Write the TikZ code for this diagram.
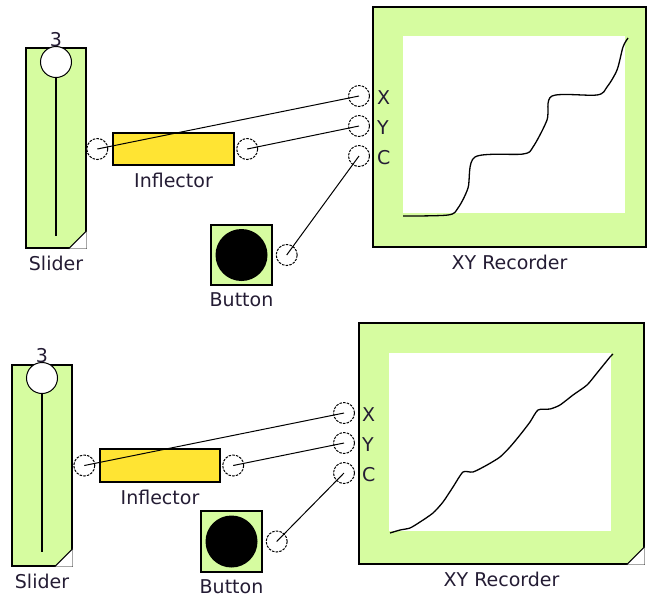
\documentclass[tikz,border=0pt]{standalone}
\usepackage{fontspec}
\setmainfont{DejaVu Sans}
\usetikzlibrary{positioning}

\definecolor{blockgreen}{RGB}{214,252,160}
\definecolor{inflyellow}{RGB}{255,228,51}
\definecolor{labelink}{RGB}{36,28,52}

\tikzset{
  block/.style={draw, line width=1.4pt, fill=blockgreen, inner sep=0pt},
  port/.style={circle, draw, dash pattern=on 2.5pt off 1.2pt, fill=white,
    minimum size=21pt, inner sep=0pt, line width=1pt},
  knob/.style={circle, draw, fill=white, minimum size=31pt, inner sep=0pt, line width=1pt},
  wire/.style={line width=1pt},
  trace/.style={line width=1.3pt, line join=round},
  caption/.style={font=\fontsize{19}{19}\selectfont, text=labelink, inner sep=0pt},
  pin label/.style={caption, right=7pt, yshift=-2pt},
}

\begin{document}
\begin{tikzpicture}[x=1pt, y=-1pt]
  \useasboundingbox (0,0) rectangle (647,598);

  % Upper model.
  % Slider.
  \node[block, minimum width=60pt, minimum height=200pt] (sliderA) at (56,148) {};
  \fill[white] (sliderA.south east) -- ++(-18,0) -- ++(18,-18) -- cycle;
  \draw[line width=1pt] (sliderA.south east) ++(-18,0) -- ++(18,-18);
  \node[knob] (knobA) at (56,62) {};
  \coordinate (trackA) at (56,236);
  \draw[line width=1.2pt] (knobA.south) -- (trackA);
  \node[caption, above=-1pt of knobA] (valA) {3};
  \node[caption, below=7pt of sliderA] (slabA) {Slider};
  % Inflector.
  \node[draw, line width=1.4pt, fill=inflyellow, minimum width=121pt, minimum height=32pt] (inflA) at (173.5,149) {};
  \node[caption, below=7pt of inflA] (ilabA) {Inflector};
  \node[port, left=4pt of inflA] (inA) {};
  \node[port, right=1.5pt of inflA] (outA) {};
  % Button.
  \node[block, minimum width=61pt, minimum height=60pt] (buttonA) at (241.5,255) {};
  \node[circle, fill=black, minimum size=52pt, inner sep=0pt] (dotA) at (buttonA) {};
  \node[caption, below=7pt of buttonA] (blabA) {Button};
  \node[port, right=3pt of buttonA] (bportA) {};
  % XY Recorder.
  \node[block, minimum width=273pt, minimum height=240pt] (recA) at (509.5,127) {};
  \fill[white] (403,36) rectangle (625,213);
  \node[caption, below=7pt of recA] (rlabA) {XY Recorder};
  \node[port] (xA) at (359,96) {};
  \node[port] (yA) at (359,126) {};
  \node[port] (cA) at (359,156) {};
  \node[pin label] at (xA.east) {X};
  \node[pin label] at (yA.east) {Y};
  \node[pin label] at (cA.east) {C};
  \draw[trace] plot[smooth, tension=0.5] coordinates {(403,216) (448,215) (458,208)
    (468,188) (475,157) (523,154) (533,147) (547,120) (552,96) (597,95) (607,87)
    (617,70) (623,47) (628,38)};
  % Wires.
  \draw[wire] (inA.center) -- (xA.center);
  \draw[wire] (outA.center) -- (yA.center);
  \draw[wire] (bportA.center) -- (cA.center);

  % Lower model.
  % Slider.
  \node[block, minimum width=60pt, minimum height=201pt] (sliderB) at (42,465.5) {};
  \fill[white] (sliderB.south east) -- ++(-18,0) -- ++(18,-18) -- cycle;
  \draw[line width=1pt] (sliderB.south east) ++(-18,0) -- ++(18,-18);
  \node[knob] (knobB) at (42,378) {};
  \coordinate (trackB) at (42,552);
  \draw[line width=1.2pt] (knobB.south) -- (trackB);
  \node[caption, above=-1pt of knobB] (valB) {3};
  \node[caption, below=7pt of sliderB] (slabB) {Slider};
  % Inflector.
  \node[draw, line width=1.4pt, fill=inflyellow, minimum width=120pt, minimum height=33pt] (inflB) at (160,465.5) {};
  \node[caption, below=7pt of inflB] (ilabB) {Inflector};
  \node[port, left=4pt of inflB] (inB) {};
  \node[port, right=1.5pt of inflB] (outB) {};
  % Button.
  \node[block, minimum width=61pt, minimum height=61pt] (buttonB) at (231.5,541.5) {};
  \node[circle, fill=black, minimum size=52pt, inner sep=0pt] (dotB) at (buttonB) {};
  \node[caption, below=7pt of buttonB] (blabB) {Button};
  \node[port, right=3pt of buttonB] (bportB) {};
  % XY Recorder.
  \node[block, minimum width=285pt, minimum height=241pt] (recB) at (501.5,443.5) {};
  \fill[white] (389,353) rectangle (611,531);
  \fill[white] (recB.south east) -- ++(-18,0) -- ++(18,-18) -- cycle;
  \draw[line width=1pt] (recB.south east) ++(-18,0) -- ++(18,-18);
  \node[caption, below=7pt of recB] (rlabB) {XY Recorder};
  \node[port] (xB) at (344,413) {};
  \node[port] (yB) at (344,443) {};
  \node[port] (cB) at (344,473) {};
  \node[pin label] at (xB.east) {X};
  \node[pin label] at (yB.east) {Y};
  \node[pin label] at (cB.east) {C};
  \draw[trace] plot[smooth, tension=0.4] coordinates {(390,533) (400,530) (410,528)
    (420,522) (433,513) (443,502) (453,487) (463,472) (473,472) (487,465) (500,457)
    (510,447) (520,435) (530,422) (538,410) (550,409) (560,405) (573,395) (587,385)
    (597,373) (610,357) (613,354)};
  % Wires.
  \draw[wire] (inB.center) -- (xB.center);
  \draw[wire] (outB.center) -- (yB.center);
  \draw[wire] (bportB.center) -- (cB.center);
\end{tikzpicture}
\end{document}
